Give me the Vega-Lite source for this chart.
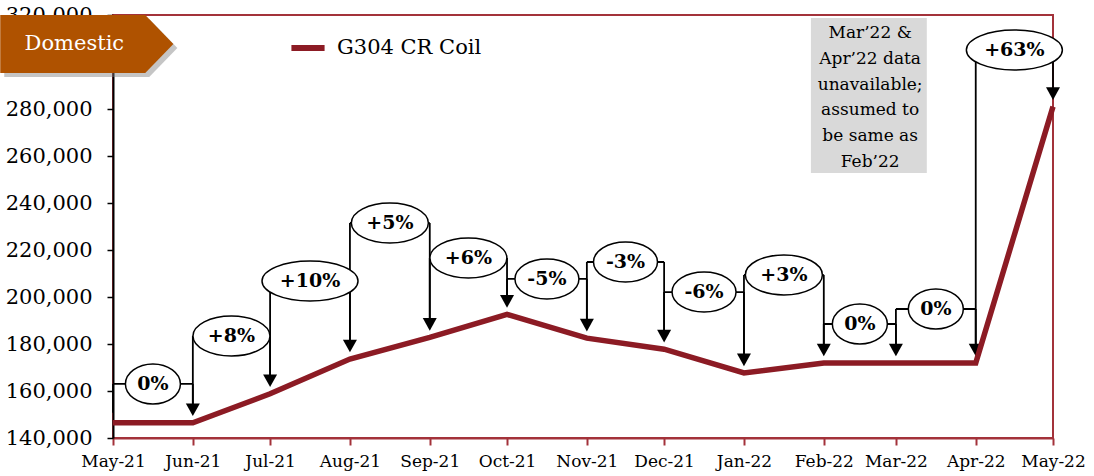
{
  "$schema": "https://vega.github.io/schema/vega-lite/v6.json",
  "width": 940,
  "height": 423,
  "autosize": {"type": "none"},
  "padding": {"left": 113, "top": 15, "right": 41, "bottom": 38},
  "background": "white",
  "config": {
    "font": "DejaVu Serif",
    "view": {"stroke": "#A3323A", "strokeWidth": 2},
    "axisY": {"domainColor": "black", "domainWidth": 2, "tickColor": "black", "tickWidth": 1.5, "tickSize": 6, "labelFont": "DejaVu Serif", "labelFontSize": 21, "labelColor": "black", "labelPadding": 15, "grid": false, "labelExpr": "format(datum.value, ',')"},
    "axisX": {"domainColor": "#A3323A", "domainWidth": 2, "tickColor": "#A3323A", "tickWidth": 2, "tickSize": 7, "labelFont": "DejaVu Serif", "labelFontSize": 17, "labelColor": "black", "labelPadding": 8, "grid": false, "labelOverlap": false, "labelFlush": false, "labelExpr": "utcFormat(datum.value, '%b-%y')", "tickCount": {"interval": "month", "step": 1}}
  },
  "datasets": {
    "prices": [
      {"date": "2021-05-01", "price": 146500},
      {"date": "2021-06-01", "price": 146500},
      {"date": "2021-07-01", "price": 158800},
      {"date": "2021-08-01", "price": 173600},
      {"date": "2021-09-01", "price": 182800},
      {"date": "2021-10-01", "price": 192600},
      {"date": "2021-11-01", "price": 182500},
      {"date": "2021-12-01", "price": 177800},
      {"date": "2022-01-01", "price": 167700},
      {"date": "2022-02-01", "price": 171900},
      {"date": "2022-03-01", "price": 171900},
      {"date": "2022-04-01", "price": 171900},
      {"date": "2022-05-01", "price": 281000}
    ],
    "changes": [
      {"from": "2021-05-01", "to": "2021-06-01", "fromPrice": 146500, "toPrice": 146500, "label": "0%", "labelY": 163000},
      {"from": "2021-06-01", "to": "2021-07-01", "fromPrice": 146500, "toPrice": 158800, "label": "+8%", "labelY": 183400},
      {"from": "2021-07-01", "to": "2021-08-01", "fromPrice": 158800, "toPrice": 173600, "label": "+10%", "labelY": 206800},
      {"from": "2021-08-01", "to": "2021-09-01", "fromPrice": 173600, "toPrice": 182800, "label": "+5%", "labelY": 231500},
      {"from": "2021-09-01", "to": "2021-10-01", "fromPrice": 182800, "toPrice": 192600, "label": "+6%", "labelY": 216600},
      {"from": "2021-10-01", "to": "2021-11-01", "fromPrice": 192600, "toPrice": 182500, "label": "-5%", "labelY": 207700},
      {"from": "2021-11-01", "to": "2021-12-01", "fromPrice": 182500, "toPrice": 177800, "label": "-3%", "labelY": 214900},
      {"from": "2021-12-01", "to": "2022-01-01", "fromPrice": 177800, "toPrice": 167700, "label": "-6%", "labelY": 202100},
      {"from": "2022-01-01", "to": "2022-02-01", "fromPrice": 167700, "toPrice": 171900, "label": "+3%", "labelY": 209400},
      {"from": "2022-02-01", "to": "2022-03-01", "fromPrice": 171900, "toPrice": 171900, "label": "0%", "labelY": 188500},
      {"from": "2022-03-01", "to": "2022-04-01", "fromPrice": 171900, "toPrice": 171900, "label": "0%", "labelY": 194900},
      {"from": "2022-04-01", "to": "2022-05-01", "fromPrice": 171900, "toPrice": 281000, "label": "+63%", "labelY": 305100}
    ]
  },
  "layer": [
    {
      "data": {"values": [{}]},
      "mark": {"type": "rect", "fill": "#D9D9D9"},
      "encoding": {
        "x": {"datum": {"year": 2022, "month": 1, "date": 27, "utc": true}, "type": "temporal", "title": null,
          "scale": {"type": "utc", "nice": false, "domain": [{"year": 2021, "month": 5, "date": 1, "utc": true}, {"year": 2022, "month": 5, "date": 1, "utc": true}]}},
        "x2": {"datum": {"year": 2022, "month": 3, "date": 13, "utc": true}},
        "y": {"datum": 318700, "type": "quantitative", "title": null,
          "scale": {"domain": [140000, 320000], "nice": false, "zero": false},
          "axis": {"values": [140000, 160000, 180000, 200000, 220000, 240000, 260000, 280000, 320000]}},
        "y2": {"datum": 252800}
      }
    },
    {
      "data": {"values": [{}]},
      "mark": {"type": "text", "font": "DejaVu Serif", "fontSize": 17, "lineHeight": 25.8, "align": "center", "baseline": "middle", "color": "black"},
      "encoding": {
        "x": {"datum": {"year": 2022, "month": 2, "date": 19, "utc": true}, "type": "temporal", "title": null},
        "y": {"datum": 312300, "type": "quantitative", "title": null},
        "text": {"value": ["Mar’22 &", "Apr’22 data", "unavailable;", "assumed to", "be same as", "Feb’22"]}
      }
    },
    {
      "data": {"name": "changes"},
      "mark": {"type": "rule", "color": "black", "strokeWidth": 1.8},
      "encoding": {
        "x": {"field": "from", "type": "temporal", "title": null},
        "x2": {"field": "to"},
        "y": {"field": "labelY", "type": "quantitative", "title": null}
      }
    },
    {
      "data": {"name": "changes"},
      "mark": {"type": "rule", "color": "black", "strokeWidth": 1.8, "y2Offset": -10},
      "encoding": {
        "x": {"field": "from", "type": "temporal", "title": null},
        "y": {"field": "labelY", "type": "quantitative", "title": null},
        "y2": {"field": "fromPrice"}
      }
    },
    {
      "data": {"name": "changes"},
      "mark": {"type": "rule", "color": "black", "strokeWidth": 1.8, "y2Offset": -15},
      "encoding": {
        "x": {"field": "to", "type": "temporal", "title": null},
        "y": {"field": "labelY", "type": "quantitative", "title": null},
        "y2": {"field": "toPrice"}
      }
    },
    {
      "data": {"name": "changes"},
      "mark": {"type": "point", "shape": "M -1 -0.9 L 1 -0.9 L 0 0.9 Z", "size": 196, "filled": true, "fill": "black", "opacity": 1, "yOffset": -13},
      "encoding": {
        "x": {"field": "to", "type": "temporal", "title": null},
        "y": {"field": "toPrice", "type": "quantitative", "title": null}
      }
    },
    {
      "data": {"name": "prices"},
      "mark": {"type": "line", "strokeWidth": 5.5, "strokeJoin": "miter"},
      "encoding": {
        "x": {"field": "date", "type": "temporal", "title": null},
        "y": {"field": "price", "type": "quantitative", "title": null},
        "stroke": {
          "datum": "G304 CR Coil",
          "scale": {"range": ["#8C1B24"]},
          "legend": {"orient": "none", "legendX": 175, "legendY": 13, "title": null, "symbolType": "stroke", "symbolStrokeWidth": 6, "symbolSize": 1100, "labelFont": "DejaVu Serif", "labelFontSize": 21, "labelColor": "black", "labelOffset": 9, "padding": 0}
        }
      }
    },
    {
      "data": {"name": "changes"},
      "transform": [{"calculate": "(toNumber(toDate(datum.from)) + toNumber(toDate(datum.to))) / 2", "as": "mid"}],
      "mark": {"type": "point", "filled": true, "fill": "white", "stroke": "black", "strokeWidth": 1.5, "size": 1600, "opacity": 1},
      "encoding": {
        "x": {"field": "mid", "type": "temporal", "title": null},
        "y": {"field": "labelY", "type": "quantitative", "title": null},
        "shape": {
          "field": "label", "type": "nominal", "legend": null,
          "scale": {
            "domain": ["0%", "+8%", "+10%", "+5%", "+6%", "-5%", "-3%", "-6%", "+3%", "+63%"],
            "range": [
              "M -1.375 0 A 1.375 1 0 1 0 1.375 0 A 1.375 1 0 1 0 -1.375 0 Z",
              "M -1.925 0 A 1.925 1 0 1 0 1.925 0 A 1.925 1 0 1 0 -1.925 0 Z",
              "M -2.4 0 A 2.4 1 0 1 0 2.4 0 A 2.4 1 0 1 0 -2.4 0 Z",
              "M -1.925 0 A 1.925 1 0 1 0 1.925 0 A 1.925 1 0 1 0 -1.925 0 Z",
              "M -1.925 0 A 1.925 1 0 1 0 1.925 0 A 1.925 1 0 1 0 -1.925 0 Z",
              "M -1.6 0 A 1.6 1 0 1 0 1.6 0 A 1.6 1 0 1 0 -1.6 0 Z",
              "M -1.6 0 A 1.6 1 0 1 0 1.6 0 A 1.6 1 0 1 0 -1.6 0 Z",
              "M -1.6 0 A 1.6 1 0 1 0 1.6 0 A 1.6 1 0 1 0 -1.6 0 Z",
              "M -1.925 0 A 1.925 1 0 1 0 1.925 0 A 1.925 1 0 1 0 -1.925 0 Z",
              "M -2.4 0 A 2.4 1 0 1 0 2.4 0 A 2.4 1 0 1 0 -2.4 0 Z"
            ]
          }
        }
      }
    },
    {
      "data": {"name": "changes"},
      "transform": [{"calculate": "(toNumber(toDate(datum.from)) + toNumber(toDate(datum.to))) / 2", "as": "mid"}],
      "mark": {"type": "text", "font": "DejaVu Serif", "fontWeight": "bold", "fontSize": 19, "color": "black", "align": "center", "baseline": "middle"},
      "encoding": {
        "x": {"field": "mid", "type": "temporal", "title": null},
        "y": {"field": "labelY", "type": "quantitative", "title": null},
        "text": {"field": "label"}
      }
    },
    {
      "data": {"values": [{}]},
      "mark": {"type": "point", "shape": "M -3 -1 L 2 -1 L 2.97 0 L 2 1 L -3 1 Z", "size": 3364, "filled": true, "fill": "#7F7F7F", "opacity": 0.45, "strokeWidth": 0, "xOffset": 4, "yOffset": 4},
      "encoding": {
        "x": {"datum": {"year": 2021, "month": 4, "date": 21, "utc": true}, "type": "temporal", "title": null},
        "y": {"datum": 307700, "type": "quantitative", "title": null}
      }
    },
    {
      "data": {"values": [{}]},
      "mark": {"type": "point", "shape": "M -3 -1 L 2 -1 L 2.97 0 L 2 1 L -3 1 Z", "size": 3364, "filled": true, "fill": "#AF5200", "opacity": 1, "strokeWidth": 0},
      "encoding": {
        "x": {"datum": {"year": 2021, "month": 4, "date": 21, "utc": true}, "type": "temporal", "title": null},
        "y": {"datum": 307700, "type": "quantitative", "title": null}
      }
    },
    {
      "data": {"values": [{}]},
      "mark": {"type": "text", "font": "DejaVu Serif", "fontSize": 21, "color": "white", "align": "center", "baseline": "middle"},
      "encoding": {
        "x": {"datum": {"year": 2021, "month": 4, "date": 16, "utc": true}, "type": "temporal", "title": null},
        "y": {"datum": 307700, "type": "quantitative", "title": null},
        "text": {"value": "Domestic"}
      }
    }
  ]
}
